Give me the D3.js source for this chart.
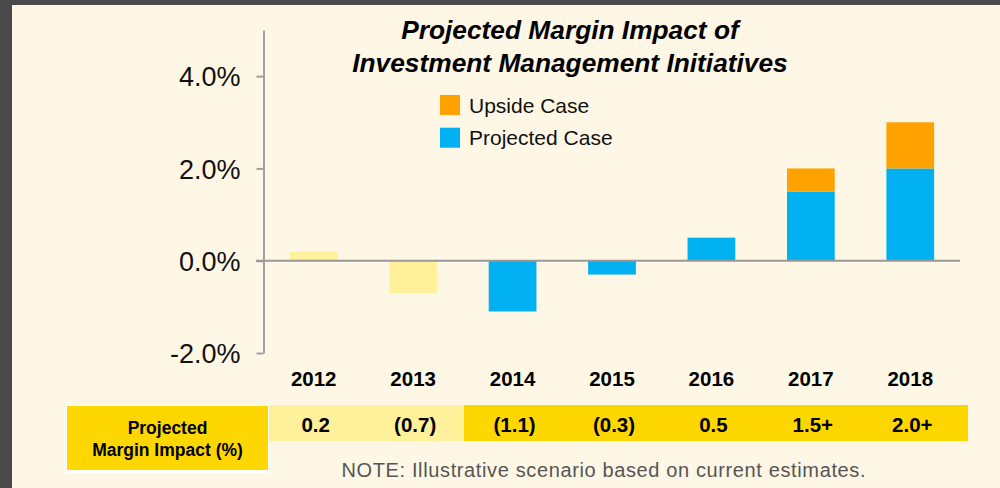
<!DOCTYPE html>
<html><head><meta charset="utf-8">
<script src="https://cdn.jsdelivr.net/npm/d3@7"></script>
<style>
html,body{margin:0;padding:0;background:#4a4a4a;}
svg{display:block;}
text{font-family:"Liberation Sans",Arial,Helvetica,sans-serif;}
</style></head>
<body>
<svg id="chart" width="1000" height="488"></svg>
<script>
// ---- data ----
const years = ["2012","2013","2014","2015","2016","2017","2018"];
const phase = ["Actual","Actual","Plan","Plan","Plan","Plan","Plan"];
const projected = [0.2, -0.7, -1.1, -0.3, 0.5, 1.5, 2.0];
const upside = [0, 0, 0, 0, 0, 0.5, 1.0];
const tableValues = ["0.2","(0.7)","(1.1)","(0.3)","0.5","1.5+","2.0+"];
const yTicks = [-2, 0, 2, 4];
const legendItems = ["Upside Case","Projected Case"];
const titleLines = ["Projected Margin Impact of","Investment Management Initiatives"];
const tableLabel = ["Projected","Margin Impact (%)"];
const note = "NOTE: Illustrative scenario based on current estimates.";

// ---- build ----
const rows = years.map((y,i)=>({year:y, phase:phase[i], projected:projected[i], upside:upside[i]}));
const svg = d3.select("#chart");
svg.append("rect").attr("x",12).attr("y",5).attr("width",988).attr("height",483).attr("fill","#fef7e6");

const x = d3.scaleBand().domain(years).range([264,960]).paddingInner(0.52).paddingOuter(0.26);
const y = d3.scaleLinear().domain([-2,5]).range([353,30]);
const cx = d => x(d) + x.bandwidth()/2;

const blue="#00b0f0", orange="#ffa200", pale="#fff09a", gold="#ffd700";
const phaseColor = d3.scaleOrdinal().domain(["Actual","Plan"]).range([pale, blue]);

// stacked bars
const stack = d3.stack().keys(["projected","upside"]).offset(d3.stackOffsetDiverging);
const series = stack(rows);
const g = svg.append("g");
series.forEach(s=>{
  g.selectAll(null).data(s).join("rect")
    .attr("x", d=>x(d.data.year))
    .attr("width", x.bandwidth())
    .attr("y", d=>y(Math.max(d[0],d[1])))
    .attr("height", d=>Math.abs(y(d[0])-y(d[1])))
    .attr("fill", d=> s.key==="upside" ? orange : phaseColor(d.data.phase));
});

// y axis
const axis = d3.axisLeft(y).tickValues(yTicks).tickSize(7).tickSizeOuter(0).tickPadding(16)
  .tickFormat(d=>d.toFixed(1)+"%");
const ax = svg.append("g").attr("transform","translate(263.5,0)").call(axis);
ax.select(".domain").attr("stroke","#a0a0a0").attr("stroke-width",2);
ax.selectAll(".tick line").attr("stroke","#a0a0a0").attr("stroke-width",2);
ax.selectAll(".tick text").attr("font-size",27).attr("fill","#111").attr("dy","0.36em")
  .style("font-family",'"Liberation Sans",Arial,sans-serif');

// zero line
svg.append("line").attr("x1",256).attr("x2",960).attr("y1",y(0)).attr("y2",y(0))
  .attr("stroke","#999").attr("stroke-width",2);

// year labels
svg.selectAll(null).data(years).join("text")
  .attr("x",d=>cx(d)).attr("y",386).attr("text-anchor","middle")
  .attr("font-size",20.5).attr("font-weight","bold").attr("fill","#000").text(d=>d);

// title
svg.selectAll(null).data(titleLines).join("text")
  .attr("x",570).attr("y",(d,i)=>39+i*32.7).attr("text-anchor","middle")
  .attr("font-size",26.3).attr("font-weight","bold").attr("font-style","italic").attr("fill","#000").text(d=>d);

// legend
const lg = svg.append("g");
lg.selectAll("rect").data(legendItems).join("rect")
  .attr("x",440).attr("y",(d,i)=>95+i*32.7).attr("width",20).attr("height",20)
  .attr("fill",(d,i)=> i===0?orange:blue);
lg.selectAll("text").data(legendItems).join("text")
  .attr("x",469).attr("y",(d,i)=>112.7+i*32.7).attr("font-size",21).attr("fill","#111").text(d=>d);

// table
const edges = years.map((d,i)=> i===0 ? 268 : Math.round((cx(years[i-1])+cx(d))/2)+1);
edges.push(968);
const tg = svg.append("g").attr("shape-rendering","crispEdges");
tg.selectAll(null).data(rows).join("rect")
  .attr("x",(d,i)=>edges[i]).attr("width",(d,i)=>edges[i+1]-edges[i]+(i<rows.length-1?1:0))
  .attr("y",405).attr("height",36)
  .attr("fill",d=> d.phase==="Actual" ? pale : gold);
tg.append("rect").attr("x",66).attr("y",405).attr("width",203).attr("height",68).attr("fill","#fff");
tg.append("rect").attr("x",67).attr("y",406).attr("width",201).attr("height",64).attr("fill",gold);
svg.selectAll(null).data(tableLabel).join("text")
  .attr("x",167.5).attr("y",(d,i)=>434.3+i*21.7).attr("text-anchor","middle")
  .attr("font-size",17.5).attr("font-weight","bold").attr("fill","#000").text(d=>d);
svg.selectAll(null).data(tableValues).join("text")
  .attr("x",(d,i)=>cx(years[i])+2).attr("y",431.7).attr("text-anchor","middle")
  .attr("font-size",20.5).attr("font-weight","bold").attr("fill","#000").text(d=>d);

// note
svg.append("text").attr("x",603.5).attr("y",476.7).attr("text-anchor","middle")
  .attr("font-size",20).attr("textLength",524).attr("lengthAdjust","spacing")
  .attr("fill","#555").text(note);
</script>
</body></html>
